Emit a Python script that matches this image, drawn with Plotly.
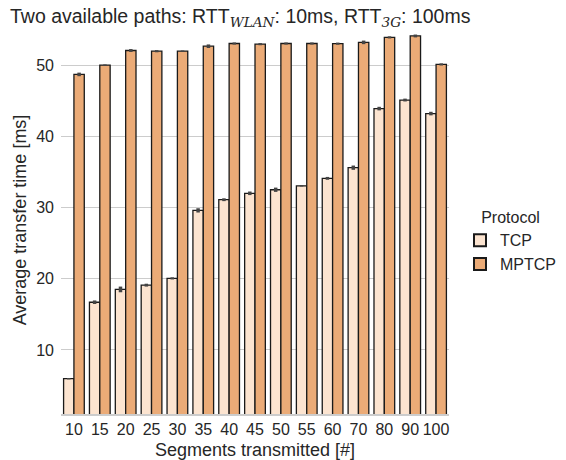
import plotly.graph_objects as go

segments = ["10", "15", "20", "25", "30", "35", "40", "45", "50", "55", "60", "70", "80", "90", "100"]
tcp_mean = [5.96, 16.7, 18.5, 19.1, 20.05, 29.6, 31.1, 32.0, 32.5, 33.05, 34.1, 35.6, 43.9, 45.1, 43.2]
tcp_err = [0.1, 0.25, 0.4, 0.2, 0.15, 0.3, 0.2, 0.25, 0.3, 0.1, 0.2, 0.3, 0.25, 0.2, 0.25]
mptcp_mean = [48.7, 50.0, 52.06, 51.96, 51.96, 52.66, 53.04, 52.95, 53.04, 53.04, 53.02, 53.2, 53.9, 54.1, 50.1]
mptcp_err = [0.25, 0.1, 0.2, 0.15, 0.1, 0.25, 0.15, 0.15, 0.15, 0.15, 0.15, 0.25, 0.15, 0.2, 0.15]

TEXT = "#262626"
FONT = "Liberation Sans, Arial, sans-serif"

fig = go.Figure()
fig.add_trace(go.Bar(
    x=segments, y=tcp_mean, name="TCP",
    marker=dict(color="#fce4d0", line=dict(color="#1a1a1a", width=1.3)),
    error_y=dict(type="data", array=tcp_err, color="#444444", thickness=3.5, width=0),
))
fig.add_trace(go.Bar(
    x=segments, y=mptcp_mean, name="MPTCP",
    marker=dict(color="#ebab77", line=dict(color="#1a1a1a", width=1.3)),
    error_y=dict(type="data", array=mptcp_err, color="#444444", thickness=3.5, width=0),
))

title_text = ("Two available paths: RTT<sub><span style=\"font-family:'DejaVu Serif';font-style:italic\">WLAN</span></sub>: 10ms, "
              "RTT<sub><span style=\"font-family:'DejaVu Serif';font-style:italic\">3G</span></sub>: 100ms")

# plot area: x 61..449 px, y 26..414 px ; paper spans 61..566 px (505 px)
PW = 566 - 61
fig.update_layout(
    width=566, height=460,
    margin=dict(l=61, r=0, t=26, b=46),
    paper_bgcolor="white", plot_bgcolor="white",
    font=dict(family=FONT, color=TEXT, size=16),
    barmode="group", bargap=0.2, bargroupgap=0,
    title=dict(text=title_text, x=10 / 566, xanchor="left", xref="container",
               y=0.98, yanchor="top", font=dict(size=19.5, color=TEXT)),
    xaxis=dict(
        domain=[0, 388 / PW],
        title=dict(text="Segments transmitted [#]", font=dict(size=18), standoff=7),
        showgrid=False, showline=True, linecolor="#cccccc", linewidth=1.5,
        ticks="", tickfont=dict(size=16), ticklen=0,
        automargin=False,
    ),
    yaxis=dict(
        title=dict(text="Average transfer time [ms]", font=dict(size=18), standoff=4),
        range=[1, 55.5], tickvals=[10, 20, 30, 40, 50],
        showgrid=True, gridcolor="#cccccc", gridwidth=1.2,
        zeroline=False, showline=False, ticks="", tickfont=dict(size=16),
        ticklabelstandoff=6, automargin=False,
    ),
    legend=dict(
        title=dict(text="Protocol", side="top center", font=dict(size=16)),
        x=(460 - 61) / PW, xanchor="left", y=0.545, yanchor="top",
        font=dict(size=16), bgcolor="rgba(0,0,0,0)",
        itemsizing="constant", tracegroupgap=6,
    ),
)

fig.write_html("out.html")
